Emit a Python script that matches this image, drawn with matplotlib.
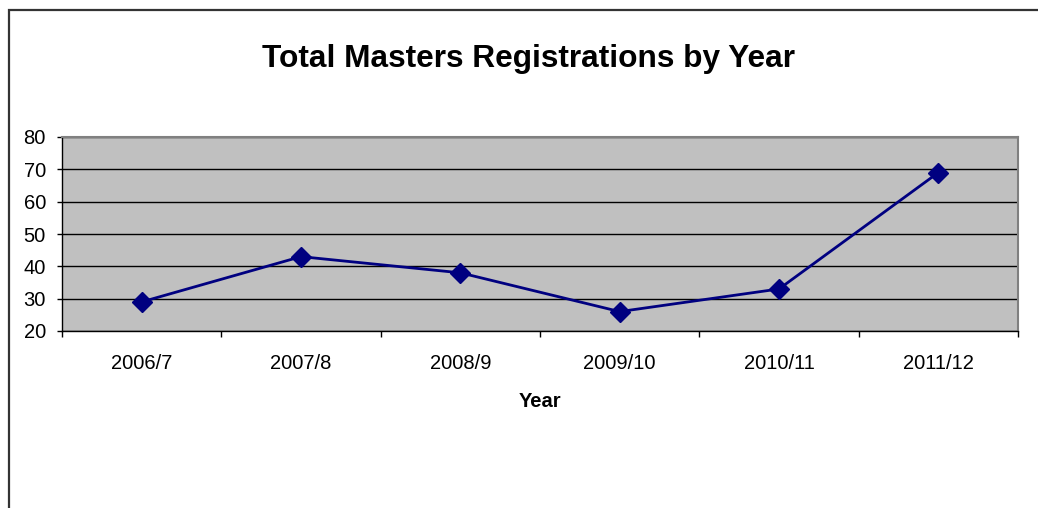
import matplotlib
matplotlib.use("Agg")
import matplotlib.pyplot as plt
import matplotlib.patches as mpatches

# ── data ──────────────────────────────────────────────────────────────────────
years = ["2006/7", "2007/8", "2008/9", "2009/10", "2010/11", "2011/12"]
registrations = [29, 43, 38, 26, 33, 69]
y_ticks = [20, 30, 40, 50, 60, 70, 80]

plt.rcParams["font.family"] = ["Liberation Sans", "DejaVu Sans"]

W, H = 1038, 508
fig = plt.figure(figsize=(W / 100, H / 100), dpi=100)

# outer chart border (left + top visible, right/bottom run off the image)
fig.patches.append(mpatches.Rectangle((9 / W, -0.1), 1.2, 1 - 10 / H + 0.1,
                                      transform=fig.transFigure, fill=False,
                                      edgecolor="#333333", linewidth=1.6))

ax = fig.add_axes([62 / W, 1 - 331 / H, (1018 - 62) / W, (331 - 137) / H])
ax.set_facecolor("#C0C0C0")

x = list(range(len(years)))
ax.plot(x, registrations, color="#000080", linewidth=2,
        marker="D", markersize=10, markerfacecolor="#000080",
        markeredgecolor="#000080", zorder=3)

ax.set_xlim(-0.5, len(years) - 0.5)
ax.set_ylim(20, 80)
ax.set_yticks(y_ticks)
ax.tick_params(axis="y", labelsize=14.5, length=3.6, width=1, pad=8)
ax.yaxis.grid(True, color="black", linewidth=1)
ax.set_axisbelow(True)

# category labels at centres, tick marks at boundaries
ax.set_xticks(x)
ax.set_xticklabels(years, fontsize=14.5)
ax.tick_params(axis="x", which="major", length=0, pad=16.5)
ax.set_xticks([i - 0.5 for i in range(len(years) + 1)], minor=True)
ax.tick_params(axis="x", which="minor", length=4.3, width=1)

for side in ["top", "right"]:
    ax.spines[side].set_color("#808080")
    ax.spines[side].set_linewidth(1.5)
for side in ["left", "bottom"]:
    ax.spines[side].set_color("black")
    ax.spines[side].set_linewidth(1)

ax.set_xlabel("Year", fontsize=14.5, fontweight="bold", labelpad=14)
fig.text(529 / W, 1 - 59 / H, "Total Masters Registrations by Year",
         ha="center", va="center", fontsize=22.8, fontweight="bold")

fig.savefig("out.png", dpi=100)
